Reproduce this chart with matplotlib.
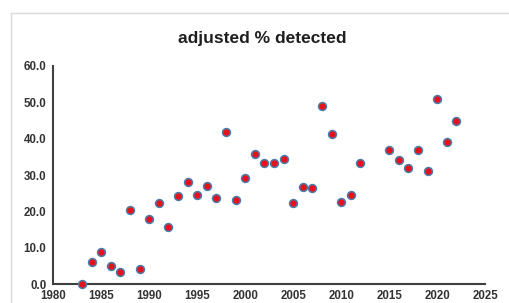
import matplotlib.pyplot as plt
from matplotlib.patches import Rectangle

years = [1983, 1984, 1985, 1986, 1987, 1988, 1989, 1990, 1991, 1992,
         1993, 1994, 1995, 1996, 1997, 1998, 1999, 2000, 2001, 2002,
         2003, 2004, 2005, 2006, 2007, 2008, 2009, 2010, 2011, 2012,
         2015, 2016, 2017, 2018, 2019, 2020, 2021, 2022]
pct_detected = [0.0, 6.0, 8.9, 4.9, 3.4, 20.5, 4.2, 18.0, 22.3, 15.8,
                24.3, 28.2, 24.5, 27.1, 23.6, 41.7, 23.1, 29.2, 35.8, 33.2,
                33.2, 34.5, 22.3, 26.8, 26.5, 49.0, 41.4, 22.5, 24.6, 33.2,
                37.0, 34.1, 31.9, 36.9, 31.0, 51.0, 39.0, 44.8]
x_ticks = [1980, 1985, 1990, 1995, 2000, 2005, 2010, 2015, 2020, 2025]
y_ticks = [0, 10, 20, 30, 40, 50, 60]

plt.rcParams['font.family'] = ['Liberation Sans', 'DejaVu Sans']

fig = plt.figure(figsize=(5.09, 3.03), dpi=100)
# light chart-area border, cut off on the right and bottom
fig.patches.append(Rectangle((11 / 509, -0.1), 1.2, (303 - 13) / 303 + 0.1,
                             transform=fig.transFigure, fill=False,
                             edgecolor='#d9d9d9', linewidth=1))

ax = fig.add_axes([0.1047, 0.0617, 0.8483, 0.7213])
ax.scatter(years, pct_detected, s=32, color='#e8111b', edgecolors='#4a7ca8',
           linewidths=1.1, zorder=3, clip_on=False)

ax.set_xlim(1980, 2025)
ax.set_ylim(0, 60)
ax.set_xticks(x_ticks)
ax.set_yticks(y_ticks)
ax.set_yticklabels([f'{v:.1f}' for v in y_ticks])
ax.tick_params(length=0, labelsize=8.3, colors='#333333', pad=5)
ax.tick_params(axis='x', pad=4)
for lbl in ax.get_xticklabels() + ax.get_yticklabels():
    lbl.set_fontweight('bold')

for side in ['top', 'right']:
    ax.spines[side].set_visible(False)
for side in ['left', 'bottom']:
    ax.spines[side].set_color('#404040')
    ax.spines[side].set_linewidth(1.5)

fig.text(262 / 509, 1 - 38 / 303, 'adjusted % detected', ha='center',
         va='center', fontsize=12.5, fontweight='bold', color='#1f1f1f')

fig.savefig('out.png', dpi=100)
